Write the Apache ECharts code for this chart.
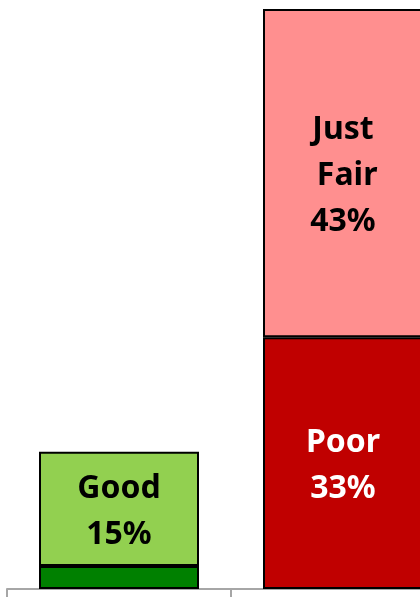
<!DOCTYPE html>
<html>
<head>
<meta charset="utf-8">
<script src="https://cdn.jsdelivr.net/npm/echarts@6/dist/echarts.min.js"></script>
<style>
  html, body { margin: 0; padding: 0; background: #fff; overflow: hidden; }
  #main { width: 470px; height: 597px; }
</style>
</head>
<body>
<div id="main"></div>
<script>
  // two columns, each a stack of two parts
  var categories = ['A', 'B']
  var bottomValues = [3, 33]
  var topValues = [15, 43]
  var bottomLabels = ['', 'Poor\n33%']
  var topLabels = ['Good\n15%', 'Just\n Fair\n43%']
  var bottomColors = ['#008000', '#C00000']
  var topColors = ['#92D050', '#FF8F8F']

  let chart = echarts.init(document.getElementById('main'))

  function items(values, colors, labels, textColors) {
    let out = []
    for (let i = 0; i < values.length; i++) {
      out.push({
        value: values[i],
        itemStyle: { color: colors[i] },
        label: {
          show: labels[i] !== '',
          color: textColors[i],
          formatter: labels[i]
        }
      })
    }
    return out
  }

  let labelStyle = {
    position: 'inside',
    offset: [0, 3],
    fontFamily: 'Noto Sans',
    fontWeight: 'bold',
    fontSize: 32,
    lineHeight: 46
  }

  chart.setOption({
    animation: false,
    grid: { left: 7, right: 15, top: 9, bottom: 8 },
    xAxis: {
      type: 'category',
      data: categories,
      axisLine: { lineStyle: { color: '#A6A6A6', width: 2 } },
      axisTick: { show: true, length: 9, lineStyle: { color: '#A6A6A6', width: 2 } },
      axisLabel: { show: false }
    },
    yAxis: { type: 'value', min: 0, max: 76, show: false },
    series: [
      {
        type: 'bar',
        stack: 'all',
        barWidth: 160,
        itemStyle: { borderColor: '#000', borderWidth: 2 },
        label: labelStyle,
        data: items(bottomValues, bottomColors, bottomLabels, ['#000', '#fff'])
      },
      {
        type: 'bar',
        stack: 'all',
        barWidth: 160,
        itemStyle: { borderColor: '#000', borderWidth: 2 },
        label: labelStyle,
        data: items(topValues, topColors, topLabels, ['#000', '#000'])
      }
    ]
  })
</script>
</body>
</html>
